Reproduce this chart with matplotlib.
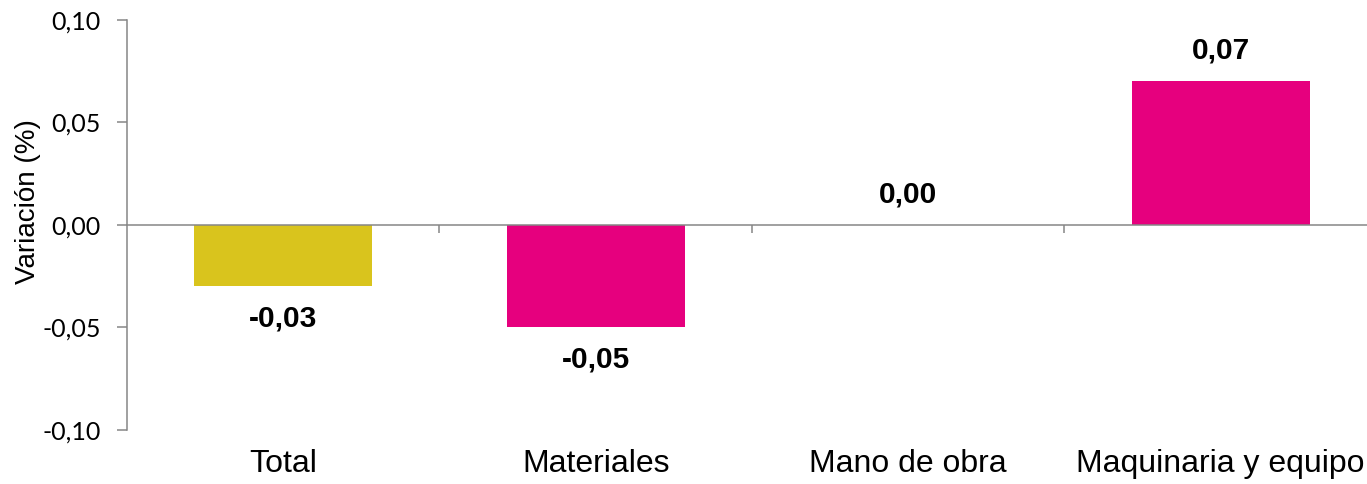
import matplotlib.pyplot as plt
import matplotlib.transforms as mtransforms
import numpy as np

# Datos
categorias = ['Total', 'Materiales', 'Mano de obra', 'Maquinaria y equipo']
valores = [-0.03, -0.05, 0.00, 0.07]
colores = ['#D9C41D', '#E6007E', '#E6007E', '#E6007E']
etiquetas = ['-0,03', '-0,05', '0,00', '0,07']
yticks = [-0.10, -0.05, 0.00, 0.05, 0.10]
ytick_labels = ['-0,10', '-0,05', '0,00', '0,05', '0,10']

fig = plt.figure(figsize=(13.67, 4.84), dpi=100)
ax = fig.add_axes([0.0929, 0.1116, 0.9144, 0.8471])

x = np.arange(len(categorias))
ax.bar(x, valores, width=0.57, color=colores, zorder=2)

ax.set_xlim(-0.5, len(categorias) - 0.5)
ax.set_ylim(-0.10, 0.10)

gris = '#868686'
for s in ['top', 'right']:
    ax.spines[s].set_visible(False)
ax.spines['left'].set_color(gris)
ax.spines['left'].set_linewidth(1.1)
ax.spines['bottom'].set_position(('data', 0))
ax.spines['bottom'].set_color(gris)
ax.spines['bottom'].set_linewidth(1.1)

# Eje y
ax.set_yticks(yticks)
ax.set_yticklabels(ytick_labels, fontfamily='Lato', fontsize=18)
ax.tick_params(axis='y', direction='out', length=7, width=1.1, color=gris, pad=12)

# Marcas del eje x en los límites entre categorías
ax.set_xticks(x[:-1] + 0.5)
ax.set_xticklabels([])
ax.tick_params(axis='x', direction='out', length=6, width=1.1, color=gris)

# Etiquetas de categoría abajo
trans = mtransforms.blended_transform_factory(ax.transData, ax.transAxes)
for xi, cat in zip(x, categorias):
    ax.annotate(cat, xy=(xi, 0), xycoords=trans, xytext=(0, -14),
                textcoords='offset points', ha='center', va='top',
                fontsize=23, fontfamily='Liberation Sans')

# Etiquetas de datos
for xi, v, lab in zip(x, valores, etiquetas):
    off = 22 if v >= 0 else -23
    ax.annotate(lab, xy=(xi, v), xytext=(0, off), textcoords='offset points',
                ha='center', va='center', fontsize=21.5, fontweight='bold',
                fontfamily='Liberation Sans')

ax.set_ylabel('Variación (%)', fontfamily='Liberation Sans', fontsize=20)
ax.yaxis.set_label_coords(-0.069, 0.558)

plt.savefig('out.png', dpi=100)
